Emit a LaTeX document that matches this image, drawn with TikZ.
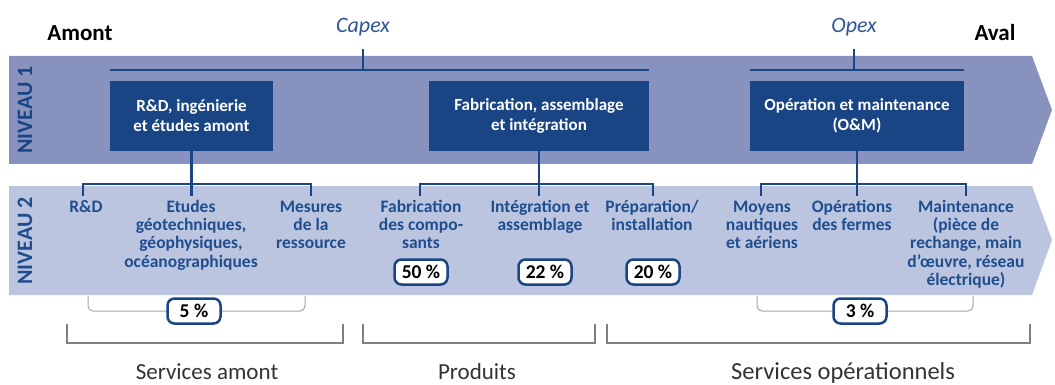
\documentclass[tikz,border=0pt]{standalone}
\usepackage{fontspec}
\setmainfont{Carlito}
\definecolor{bandone}{HTML}{8793BE}
\definecolor{bandtwo}{HTML}{BCC5E0}
\definecolor{navy}{HTML}{1A4585}
\definecolor{lblue}{HTML}{1F4E8F}
\definecolor{capblue}{HTML}{2F5597}
\definecolor{brgray}{HTML}{808080}
\definecolor{ltgray}{HTML}{A6A6A6}
\definecolor{txtgray}{HTML}{333333}
\newcommand\lstrut{\rule{0pt}{14pt}}
\begin{document}
\begin{tikzpicture}[x=1pt,y=-1pt,
  lvlbox/.style={fill=navy, text=white, font=\fontsize{17}{20}\selectfont\bfseries, align=center, inner sep=0pt, minimum height=70pt},
  lbl/.style={text=lblue, font=\fontsize{17.5}{18.3}\selectfont\bfseries, align=center, anchor=north, inner sep=0pt},
  pct/.style={draw=navy, line width=2.5pt, fill=white, rounded corners=7pt, minimum width=53pt, minimum height=25pt, inner sep=0pt, font=\fontsize{19.5}{20}\selectfont\bfseries},
  conn/.style={draw=navy, line width=2.5pt},
  topline/.style={draw=navy, line width=1.5pt},
  gbr/.style={draw=brgray, line width=1.2pt},
  lbr/.style={draw=ltgray, line width=1pt, rounded corners=5pt},
  niv/.style={rotate=90, font=\fontsize{22}{22}\selectfont\bfseries, inner sep=0pt},
  capstyle/.style={text=capblue, font=\fontsize{22}{22}\selectfont\itshape, inner sep=0pt},
  endstyle/.style={text=black, font=\fontsize{23}{23}\selectfont\bfseries, inner sep=0pt},
  bottomlbl/.style={text=txtgray, font=\fontsize{23}{23}\selectfont, inner sep=0pt, anchor=base}
]
\useasboundingbox (0,0) rectangle (1055,385);
\fill[white] (0,0) rectangle (1055,385);
% bands
\fill[bandone] (9,56) -- (1032,56) -- (1052,110) -- (1032,164) -- (9,164) -- cycle;
\fill[bandtwo] (9,186) -- (1032,186) -- (1052,240) -- (1032,295) -- (9,295) -- cycle;
\node[niv, text=navy] (n1) at (25,110) {NIVEAU 1};
\node[niv, text=lblue] (n2) at (25,241) {NIVEAU 2};
% header texts
\node[endstyle] (amont) at (80,33) {Amont};
\node[endstyle] (aval) at (995,33) {Aval};
\node[capstyle] (capex) at (363,27) {Capex};
\node[capstyle] (opex) at (854,27) {Opex};
% level 1 boxes
\node[lvlbox, minimum width=163pt] (b1) at (191.5,116) {R\&D, ingénierie\\et études amont};
\node[lvlbox, minimum width=220pt] (b2) at (539,116) {Fabrication, assemblage\\et intégration};
\node[lvlbox, minimum width=214pt] (b3) at (857,116) {Opération et maintenance\\(O\&M)};
% capex / opex lines
\coordinate (cl) at (110,70);
\coordinate (cr) at (649,70);
\coordinate (ct) at (363,49);
\coordinate (cb) at (363,70);
\draw[topline] (cl) -- (cr);
\draw[topline] (ct) -- (cb);
\coordinate (ol) at (750,70);
\coordinate (or) at (964,70);
\coordinate (ot) at (854,49);
\coordinate (ob) at (854,70);
\draw[topline] (ol) -- (or);
\draw[topline] (ot) -- (ob);
% level 2 brackets
\coordinate (a1) at (83,196); \coordinate (a2) at (83,184);
\coordinate (a3) at (311,184); \coordinate (a4) at (311,196);
\draw[conn] (a1) -- (a2) -- (a3) -- (a4);
\draw[conn] (b1.south) -- (b1.south |- a1);
\coordinate (p1) at (420,196); \coordinate (p2) at (420,184);
\coordinate (p3) at (653,184); \coordinate (p4) at (653,196);
\draw[conn] (p1) -- (p2) -- (p3) -- (p4);
\draw[conn] (b2.south) -- (b2.south |- p1);
\coordinate (o1) at (761,196); \coordinate (o2) at (761,184);
\coordinate (o3) at (966,184); \coordinate (o4) at (966,196);
\draw[conn] (o1) -- (o2) -- (o3) -- (o4);
\draw[conn] (b3.south) -- (b3.south |- o1);
% level 2 labels
\node[lbl] (l1) at (86,198) {\lstrut R\&D};
\node[lbl] (l2) at (191,198) {\lstrut Etudes\\géotechniques,\\géophysiques,\\océanographiques};
\node[lbl] (l3) at (311,198) {\lstrut Mesures\\de la\\ressource};
\node[lbl] (l4) at (421,198) {\lstrut Fabrication\\des compo-\\sants};
\node[lbl] (l5) at (540,198) {\lstrut Intégration et\\assemblage};
\node[lbl] (l6) at (652,198) {\lstrut Préparation/\\installation};
\node[lbl] (l7) at (762,198) {\lstrut Moyens\\nautiques\\et aériens};
\node[lbl] (l8) at (852,198) {\lstrut Opérations\\des fermes};
\node[lbl] (l9) at (966,198) {\lstrut Maintenance\\(pièce de\\rechange, main\\d’œuvre, réseau\\électrique)};
% light brackets
\coordinate (f1) at (88,296); \coordinate (f2) at (88,311);
\coordinate (f3) at (305,311); \coordinate (f4) at (305,296);
\draw[lbr] (f1) -- (f2) -- (f3) -- (f4);
\coordinate (t1) at (757,296); \coordinate (t2) at (757,311);
\coordinate (t3) at (973,311); \coordinate (t4) at (973,296);
\draw[lbr] (t1) -- (t2) -- (t3) -- (t4);
% percentages
\node[pct] (q50) at (421,272) {50~\%};
\node[pct] (q22) at (545,272) {22~\%};
\node[pct] (q20) at (653,272) {20~\%};
\node[pct] (q5) at (194,311) {5~\%};
\node[pct] (q3) at (860,311) {3~\%};
% bottom brackets
\coordinate (g1) at (67,324); \coordinate (g2) at (67,343);
\coordinate (g3) at (343,343); \coordinate (g4) at (343,324);
\draw[gbr] (g1) -- (g2) -- (g3) -- (g4);
\coordinate (h1) at (363,324); \coordinate (h2) at (363,343);
\coordinate (h3) at (595,343); \coordinate (h4) at (595,324);
\draw[gbr] (h1) -- (h2) -- (h3) -- (h4);
\coordinate (k1) at (607,324); \coordinate (k2) at (607,343);
\coordinate (k3) at (1030,343); \coordinate (k4) at (1030,324);
\draw[gbr] (k1) -- (k2) -- (k3) -- (k4);
\node[bottomlbl] (s1) at (207,379) {Services amont};
\node[bottomlbl] (s2) at (477,379) {Produits};
\node[bottomlbl, font=\fontsize{24.5}{25}\selectfont] (s3) at (843,379) {Services opérationnels};
\end{tikzpicture}
\end{document}
